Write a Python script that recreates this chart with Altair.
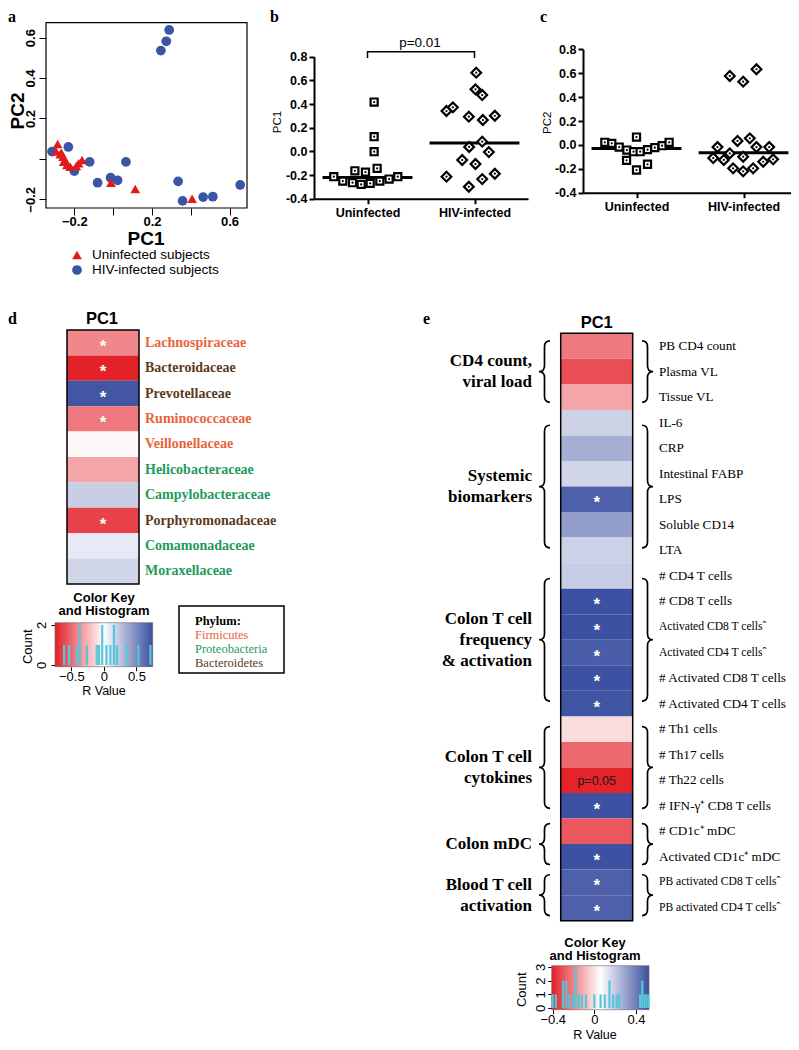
import json
import altair as alt
import pandas as pd

W, H = 783, 1034
M = 8
SANS = "Liberation Sans"
SERIF = "Liberation Serif"
RED = "#E31E26"
BLUE = "#3A4FA0"
CYAN = "#58C6DA"

# ------------------------------------------------------------------ data
# (a) PCA scatter
a_groups = ["Uninfected subjects", "HIV-infected subjects"]
a_colors = ["#E31A1C", "#3A55A6"]
a_shapes = ["triangle-up", "circle"]
a_unin_pc1 = [-0.286, -0.293, -0.272, -0.267, -0.258, -0.255, -0.246, -0.238, -0.221, -0.190, -0.178, -0.160, -0.011, 0.114, 0.407]
a_unin_pc2 = [0.074, 0.036, 0.023, 0.031, 0.011, -0.014, -0.007, -0.030, -0.039, -0.035, -0.022, -0.005, -0.118, -0.149, -0.197]
a_hiv_pc1 = [-0.315, -0.231, -0.200, -0.121, -0.080, -0.013, 0.023, 0.066, 0.246, 0.274, 0.289, 0.335, 0.358, 0.464, 0.514, 0.655]
a_hiv_pc2 = [0.036, 0.059, -0.060, -0.015, -0.118, -0.093, -0.106, -0.015, 0.536, 0.582, 0.638, -0.111, -0.208, -0.189, -0.187, -0.129]
a_ticks = [-0.2, 0.0, 0.2, 0.4, 0.6]
a_x_labeled = [-0.2, 0.2, 0.6]
a_y_labeled = [-0.2, 0.2, 0.4, 0.6]

# (b, c) dot plots
bc_cats = ["Uninfected", "HIV-infected"]
bc_yticks = [-0.4, -0.2, 0.0, 0.2, 0.4, 0.6, 0.8]
b_unin = [0.417, 0.124, -0.003, -0.164, -0.175, -0.143, -0.214, -0.251, -0.265, -0.279, -0.270, -0.251, -0.234, -0.214]
b_unin_jit = [0.062, 0.062, 0.062, -0.118, -0.019, 0.090, -0.315, -0.231, -0.140, -0.059, 0.025, 0.115, 0.202, 0.283]
b_hiv = [0.665, 0.524, 0.476, 0.341, 0.372, 0.293, 0.265, 0.301, 0.082, 0.037, -0.006, -0.073, -0.107, -0.214, -0.189, -0.234, -0.299]
b_hiv_jit = [0.016, 0.009, 0.072, -0.262, -0.202, -0.053, 0.078, 0.190, 0.072, -0.050, 0.134, -0.115, 0.009, -0.262, 0.190, 0.072, -0.053]
b_medians = [-0.22, 0.07]
b_bracket_x = [0, 0, 1, 1]
b_bracket_y = [0.79, 0.842, 0.842, 0.79]
b_pvalue = "p=0.01"

c_unin = [0.022, 0.013, -0.018, -0.043, -0.057, -0.057, -0.040, -0.023, -0.007, 0.022, 0.066, -0.129, -0.210, -0.162]
c_unin_jit = [-0.296, -0.231, -0.162, -0.090, -0.028, 0.034, 0.103, 0.171, 0.240, 0.305, 0.0, -0.093, 0.0, 0.103]
c_hiv = [0.577, 0.529, 0.633, -0.018, 0.033, 0.055, -0.018, -0.018, -0.071, -0.110, -0.126, -0.099, -0.196, -0.221, -0.196, -0.141, -0.121]
c_hiv_jit = [-0.128, -0.003, 0.121, -0.243, -0.056, 0.059, 0.121, 0.240, -0.128, -0.283, -0.184, -0.003, -0.097, -0.003, 0.090, 0.184, 0.277]
c_medians = [-0.03, -0.065]

# (d) family heatmap
d_families = ["Lachnospiraceae", "Bacteroidaceae", "Prevotellaceae", "Ruminococcaceae", "Veillonellaceae",
              "Helicobacteraceae", "Campylobacteraceae", "Porphyromonadaceae", "Comamonadaceae", "Moraxellaceae"]
d_phylum = ["Firmicutes", "Bacteroidetes", "Bacteroidetes", "Firmicutes", "Firmicutes",
            "Proteobacteria", "Proteobacteria", "Bacteroidetes", "Proteobacteria", "Proteobacteria"]
d_r = [-0.40, -0.74, 0.72, -0.45, -0.02, -0.30, 0.21, -0.63, 0.09, 0.18]
d_sig = ["*", "*", "*", "*", "", "", "", "*", "", ""]
phyla = ["Firmicutes", "Proteobacteria", "Bacteroidetes"]
phyla_colors = ["#E8643C", "#1E9A5C", "#5B3A1E"]
d_hist_r = [-0.61, -0.535, -0.42, -0.37, -0.26, -0.11, -0.075, -0.025, 0.04, 0.10, 0.155, 0.20, 0.35, 0.53, 0.715]
d_hist_n = [1, 1, 1, 2, 1, 1, 1, 2, 1, 1, 2, 1, 1, 1, 1]
d_key_domain = [-0.75, 0.75]

# (e) clinical heatmap
CARET = "\u02c6"
e_rows = ["PB CD4 count", "Plasma VL", "Tissue VL", "IL-6", "CRP", "Intestinal FABP", "LPS", "Soluble CD14", "LTA",
          "# CD4 T cells", "# CD8 T cells", "Activated CD8 T cells" + CARET, "Activated CD4 T cells" + CARET,
          "# Activated CD8 T cells", "# Activated CD4 T cells", "# Th1 cells", "# Th17 cells", "# Th22 cells",
          "# IFN-\u03b3\u207a CD8 T cells", "# CD1c\u207a mDC", "Activated CD1c\u207a mDC",
          "PB activated CD8 T cells" + CARET, "PB activated CD4 T cells" + CARET]
e_r = [-0.22, -0.31, -0.13, 0.177, 0.27, 0.17, 0.478, 0.317, 0.18, 0.19, 0.52, 0.52, 0.487, 0.52, 0.51,
       -0.014, -0.255, -0.40, 0.52, -0.29, 0.52, 0.48, 0.48]
e_sig = ["", "", "", "", "", "", "*", "", "", "", "*", "*", "*", "*", "*", "", "", "p=0.05", "*", "", "*", "*", "*"]
e_groups = ["CD4 count,\nviral load", "Systemic\nbiomarkers", "Colon T cell\nfrequency\n& activation",
            "Colon T cell\ncytokines", "Colon mDC", "Blood T cell\nactivation"]
e_group_start = [0, 3, 9, 15, 19, 21]
e_group_end = [3, 9, 15, 19, 21, 23]
e_hist_r = [-0.40, -0.37, -0.30, -0.27, -0.24, -0.20, -0.18, -0.15, -0.12, -0.08, 0.0, 0.06, 0.10, 0.145,
            0.18, 0.215, 0.24, 0.44, 0.46, 0.48, 0.50, 0.52]
e_hist_n = [1, 1, 2, 2, 1, 1, 3, 1, 1, 1, 1, 1, 1, 2, 1, 1, 1, 1, 2, 1, 1, 1]
e_key_domain = [-0.41, 0.525]


# ------------------------------------------------------------------ helpers
def P(v):
    return v - M


def sc(domain, rng):
    return alt.Scale(domain=domain, range=[P(r) for r in rng], nice=False, zero=False)


def axis(orient, page_pos, **kw):
    off = -(H - P(page_pos)) if orient == "bottom" else -P(page_pos)
    base = dict(orient=orient, offset=off, grid=False, title=None, labelFont=SANS, labelColor="black",
                domainColor="black", tickColor="black", labelFlush=False, labelOverlap=False)
    base.update(kw)
    return alt.Axis(**base)


def label(text, x, y, size=12, weight="normal", font=SANS, color="black", align="center",
          baseline="middle", angle=None, line_height=None):
    kw = dict(fontSize=size, fontWeight=weight, font=font, color=color, align=align, baseline=baseline)
    if angle is not None:
        kw["angle"] = angle
    if line_height is not None:
        kw["lineHeight"] = line_height
        kw["lineBreak"] = "\n"
    return alt.Chart(pd.DataFrame({"t": [text]})).mark_text(**kw).encode(
        x=alt.value(P(x)), y=alt.value(P(y)), text="t:N")


def box(x0, x1, y0, y1, color="black", width=1.5):
    return alt.Chart(pd.DataFrame({"k": [0]})).mark_rect(filled=False, color=color, strokeWidth=width).encode(
        x=alt.value(P(x0)), x2=alt.value(P(x1)), y=alt.value(P(y0)), y2=alt.value(P(y1)))


def heat_color_scale(domain, mid):
    return alt.Scale(domain=[domain[0], mid, domain[1]], range=[RED, "#FFFFFF", BLUE], interpolate="rgb")


def brace_path(h, left=True, w=11.0, curl=6.0):
    a = w / h
    k = 2 * curl / h
    s = 1 if left else -1
    f = lambda v: f"{v:.4f}"
    return (f"M{f(s*a)},-1 Q0,-1 0,{f(-1+k)} L0,{f(-k)} Q0,0 {f(-s*a)},0 "
            f"Q0,0 0,{f(k)} L0,{f(1-k)} Q0,1 {f(s*a)},1")


layers = []

# ------------------------------------------------------------------ panel a
xa = sc([-0.346, 0.69], [46, 247])
ya = sc([-0.243, 0.674], [208, 22.7])
df_a = pd.DataFrame({
    "pc1": a_hiv_pc1 + a_unin_pc1,
    "pc2": a_hiv_pc2 + a_unin_pc2,
    "grp": [a_groups[1]] * len(a_hiv_pc1) + [a_groups[0]] * len(a_unin_pc1),
})
a_col = alt.Scale(domain=a_groups, range=a_colors)
a_shp = alt.Scale(domain=a_groups, range=a_shapes)
ax_a = axis("bottom", 208, values=a_ticks, format=".1f", domain=False, tickSize=7,
            labelExpr=f"indexof({json.dumps(a_x_labeled)}, datum.value) >= 0 ? datum.label : ''",
            labelFontSize=13, labelFontWeight="bold", labelPadding=0)
ay_a = axis("left", 46, values=a_ticks, format=".1f", domain=False, tickSize=7,
            labelExpr=f"indexof({json.dumps(a_y_labeled)}, datum.value) >= 0 ? datum.label : ''",
            labelFontSize=13, labelFontWeight="bold", labelPadding=2, labelAngle=270,
            labelAlign="center", labelBaseline="bottom")
layers.append(alt.Chart(df_a).mark_point(filled=True, opacity=1, size=95).encode(
    x=alt.X("pc1:Q", scale=xa, axis=ax_a),
    y=alt.Y("pc2:Q", scale=ya, axis=ay_a),
    color=alt.Color("grp:N", scale=a_col, legend=None),
    shape=alt.Shape("grp:N", scale=a_shp, legend=None)))
layers.append(box(46, 247, 22.7, 208, width=1.2))
layers.append(label("PC1", 146, 239, size=19, weight="bold"))
layers.append(label("PC2", 18, 111, size=19, weight="bold", angle=270))
df_leg = pd.DataFrame({"grp": a_groups, "i": [0, 1]})
yl = sc([0, 1], [255, 270])
layers.append(alt.Chart(df_leg).mark_point(filled=True, opacity=1, size=95).encode(
    x=alt.value(P(77)), y=alt.Y("i:Q", scale=yl, axis=None),
    color=alt.Color("grp:N", scale=a_col, legend=None),
    shape=alt.Shape("grp:N", scale=a_shp, legend=None)))
layers.append(alt.Chart(df_leg).mark_text(align="left", baseline="middle", font=SANS, fontSize=13.5).encode(
    x=alt.value(P(92)), y=alt.Y("i:Q", scale=yl, axis=None), text="grp:N"))


# ------------------------------------------------------------------ panels b, c
def dot_panel(u_vals, u_jit, h_vals, h_jit, meds, xl, xr, yb, yt):
    xs = sc([-0.5, 1.5], [xl, xr])
    ys = sc([bc_yticks[0], bc_yticks[-1]], [yb, yt])
    du = pd.DataFrame({"x": [0 + j for j in u_jit], "y": u_vals})
    dh = pd.DataFrame({"x": [1 + j for j in h_jit], "y": h_vals})
    xaxis = axis("bottom", yb, values=[0, 1], labelExpr=f"{json.dumps(bc_cats)}[datum.value]",
                 tickSize=5, tickWidth=2, domainWidth=2, labelFontSize=12.5, labelFontWeight="bold",
                 labelPadding=3)
    yaxis = axis("left", xl, values=bc_yticks,
                 labelExpr="(datum.value < 0 ? '-' : '') + format(abs(datum.value), '.1f')",
                 tickSize=5, tickWidth=2, domainWidth=2, labelFontSize=12.5, labelFontWeight="bold",
                 labelPadding=2)
    style = dict(filled=True, fill="white", stroke="black", strokeWidth=2.2, opacity=1)
    med = pd.DataFrame({"x": [i - 0.42 for i in range(2)], "x2": [i + 0.42 for i in range(2)], "y": meds})
    out = [
        alt.Chart(med).mark_rule(color="black", strokeWidth=3).encode(
            x=alt.X("x:Q", scale=xs, axis=None), x2="x2:Q", y=alt.Y("y:Q", scale=ys, axis=None)),
        alt.Chart(du).mark_point(shape="square", size=50, **style).encode(
            x=alt.X("x:Q", scale=xs, axis=xaxis), y=alt.Y("y:Q", scale=ys, axis=yaxis)),
        alt.Chart(dh).mark_point(shape="diamond", size=95, **style).encode(
            x=alt.X("x:Q", scale=xs, axis=None), y=alt.Y("y:Q", scale=ys, axis=None)),
        alt.Chart(pd.concat([du, dh])).mark_point(filled=True, color="black", size=5, opacity=1).encode(
            x=alt.X("x:Q", scale=xs, axis=None), y=alt.Y("y:Q", scale=ys, axis=None)),
    ]
    return out, xs, ys


lb, xsb, ysb = dot_panel(b_unin, b_unin_jit, b_hiv, b_hiv_jit, b_medians, 314, 528, 198.7, 56.7)
layers += lb
br = pd.DataFrame({"x": b_bracket_x, "y": b_bracket_y, "o": list(range(len(b_bracket_x)))})
layers.append(alt.Chart(br).mark_line(color="black", strokeWidth=1.5).encode(
    x=alt.X("x:Q", scale=xsb, axis=None), y=alt.Y("y:Q", scale=ysb, axis=None), order="o:Q"))
layers.append(label(b_pvalue, 420, 43, size=13.5))
layers.append(label("PC1", 278, 122, size=11.5, angle=270))

lc, _, _ = dot_panel(c_unin, c_unin_jit, c_hiv, c_hiv_jit, c_medians, 583, 797, 192.7, 49.3)
layers += lc
layers.append(label("PC2", 547.5, 122.7, size=11.5, angle=270))


# ------------------------------------------------------------------ colour keys
def color_key(x0, x1, y0, y1, domain, count_top, count_y0, count_y1, hist_r, hist_n, ticks, title_x,
              title_y, count_x, count_ylab, rval_y, ylab_pad):
    g = alt.LinearGradient(gradient="linear", x1=0, x2=1, y1=0, y2=0, stops=[
        alt.GradientStop(color=RED, offset=0), alt.GradientStop(color="#FFFFFF", offset=0.5),
        alt.GradientStop(color=BLUE, offset=1)])
    out = [alt.Chart(pd.DataFrame({"k": [0]})).mark_rect(fill=g, stroke="#666666", strokeWidth=0.6).encode(
        x=alt.value(P(x0)), x2=alt.value(P(x1)), y=alt.value(P(y0)), y2=alt.value(P(y1)))]
    xk = sc(domain, [x0, x1])
    yk = sc([0, count_top], [count_y0, count_y1])
    dfh = pd.DataFrame({"v": hist_r, "n": hist_n, "z": [0] * len(hist_r)})
    out.append(alt.Chart(dfh).mark_rule(color=CYAN, strokeWidth=2.2).encode(
        x=alt.X("v:Q", scale=xk, axis=axis("bottom", y1, values=ticks, format=".1~f", domain=False,
                                          tickSize=4, labelFontSize=13, labelPadding=0)),
        y=alt.Y("z:Q", scale=yk, axis=axis("left", x0, values=list(range(count_top + 1)), format="d",
                                          domain=False, tickSize=4, labelFontSize=13,
                                          labelPadding=ylab_pad, labelAngle=270, labelAlign="center",
                                          labelBaseline="bottom")),
        y2="n:Q"))
    out.append(label("Color Key\nand Histogram", title_x, title_y, size=13, weight="bold", line_height=13))
    out.append(label("Count", count_x, count_ylab, size=13, angle=270))
    out.append(label("R Value", title_x, rval_y, size=12.5))
    return out


# ------------------------------------------------------------------ panel d
nd = len(d_families)
yd = sc([0, nd], [330, 584])
df_d = pd.DataFrame({"family": d_families, "phylum": d_phylum, "r": d_r, "sig": d_sig,
                     "idx": list(range(nd))})
df_d["idx1"] = df_d["idx"] + 1
df_d["mid"] = df_d["idx"] + 0.5
layers.append(alt.Chart(df_d).mark_rect().encode(
    x=alt.value(P(67)), x2=alt.value(P(139)),
    y=alt.Y("idx:Q", scale=yd, axis=None), y2="idx1:Q",
    color=alt.Color("r:Q", scale=heat_color_scale(d_key_domain, 0.0), legend=None)))
layers.append(box(67, 139, 330, 584, width=1.5))
layers.append(alt.Chart(df_d[df_d["sig"] == "*"]).mark_text(
    color="white", fontSize=17, fontWeight="bold", font=SANS, baseline="middle", dy=4).encode(
    x=alt.value(P(103)), y=alt.Y("mid:Q", scale=yd, axis=None), text="sig:N"))
ph_col = alt.Scale(domain=phyla, range=phyla_colors)
layers.append(alt.Chart(df_d).mark_text(align="left", baseline="middle", font=SERIF, fontWeight="bold",
                                         fontSize=14).encode(
    x=alt.value(P(145)), y=alt.Y("mid:Q", scale=yd, axis=None), text="family:N",
    color=alt.Color("phylum:N", scale=ph_col, legend=None)))
layers.append(label("PC1", 102, 319, size=16.5, weight="bold"))
layers += color_key(55, 152.7, 622.7, 666.7, d_key_domain, 2, 665, 625, d_hist_r, d_hist_n,
                    [-0.5, 0, 0.5], 104, 598, 28, 646.7, 691, 3)
# phylum legend
layers.append(box(179, 284, 606, 673, width=1.5))
layers.append(label("Phylum:", 195, 620.7, size=12.5, weight="bold", font=SERIF, align="left"))
df_ph = pd.DataFrame({"phylum": phyla, "i": list(range(len(phyla)))})
layers.append(alt.Chart(df_ph).mark_text(align="left", baseline="middle", font=SERIF, fontSize=12.5).encode(
    x=alt.value(P(195)), y=alt.Y("i:Q", scale=sc([0, 2], [634.7, 663]), axis=None), text="phylum:N",
    color=alt.Color("phylum:N", scale=ph_col, legend=None)))

# ------------------------------------------------------------------ panel e
ne = len(e_rows)
E_TOP, E_BOT = 333.3, 920.7
row_px = (E_BOT - E_TOP) / ne
ye = sc([0, ne], [E_TOP, E_BOT])
df_e = pd.DataFrame({"row": e_rows, "r": e_r, "sig": e_sig, "idx": list(range(ne))})
df_e["idx1"] = df_e["idx"] + 1
df_e["mid"] = df_e["idx"] + 0.5
layers.append(alt.Chart(df_e).mark_rect().encode(
    x=alt.value(P(560.7)), x2=alt.value(P(632.7)),
    y=alt.Y("idx:Q", scale=ye, axis=None), y2="idx1:Q",
    color=alt.Color("r:Q", scale=heat_color_scale(e_key_domain, sum(e_key_domain) / 2), legend=None)))
layers.append(box(560.7, 632.7, E_TOP, E_BOT, width=1.5))
layers.append(alt.Chart(df_e[df_e["sig"] == "*"]).mark_text(
    color="white", fontSize=17, fontWeight="bold", font=SANS, baseline="middle", dy=4).encode(
    x=alt.value(P(596.7)), y=alt.Y("mid:Q", scale=ye, axis=None), text="sig:N"))
layers.append(alt.Chart(df_e[df_e["sig"].str.startswith("p")]).mark_text(
    color="#1A1A1A", fontSize=12.5, font=SANS, baseline="middle", dy=1).encode(
    x=alt.value(P(596.7)), y=alt.Y("mid:Q", scale=ye, axis=None), text="sig:N"))
narrow = df_e["row"].str.endswith(CARET)
for sub, fs in ((df_e[~narrow], 13.2), (df_e[narrow], 11.6)):
    layers.append(alt.Chart(sub).mark_text(align="left", baseline="middle", font=SERIF, fontSize=fs).encode(
        x=alt.value(P(659)), y=alt.Y("mid:Q", scale=ye, axis=None), text="row:N"))
layers.append(label("PC1", 596.7, 323, size=16.5, weight="bold"))

LH = 21
df_g = pd.DataFrame({"grp": e_groups, "s": e_group_start, "e": e_group_end})
df_g["gid"] = [f"g{i}" for i in range(len(e_groups))]
df_g["c"] = (df_g["s"] + df_g["e"]) / 2
df_g["nl"] = df_g["grp"].str.count("\n")
df_g["first"] = df_g["c"] - df_g["nl"] * LH / 2 / row_px
df_g["h"] = (df_g["e"] - df_g["s"]) * row_px * 0.8
df_g["sz"] = df_g["h"] ** 2
layers.append(alt.Chart(df_g).mark_text(align="right", baseline="middle", font=SERIF, fontWeight="bold",
                                         fontSize=17, lineBreak="\n", lineHeight=LH).encode(
    x=alt.value(P(532)), y=alt.Y("first:Q", scale=ye, axis=None), text="grp:N"))
for side, xpos in (("left", 544.5), ("right", 647.5)):
    paths = [brace_path(h, left=(side == "left")) for h in df_g["h"]]
    layers.append(alt.Chart(df_g).mark_point(filled=False, color="black", strokeWidth=1.7, opacity=1).encode(
        x=alt.value(P(xpos)), y=alt.Y("c:Q", scale=ye, axis=None),
        shape=alt.Shape("gid:N", scale=alt.Scale(domain=list(df_g["gid"]), range=paths), legend=None),
        size=alt.Size("sz:Q", scale=None)))

# key e sits a little higher than in the source so that its axis title stays inside the page
layers += color_key(551.7, 649, 965.7, 1009.7, e_key_domain, 3, 1008, 967, e_hist_r, e_hist_n,
                    [-0.4, 0, 0.4], 595, 943, 521.7, 989.7, 1034.5, 0)

# ------------------------------------------------------------------ panel letters
for ch, x, y in (("a", 8, 22), ("b", 270, 22), ("c", 540, 22), ("d", 8, 324), ("e", 423, 324)):
    layers.append(label(ch, x, y, size=16, weight="bold", font=SERIF, align="left", baseline="alphabetic"))

chart = alt.layer(*layers).resolve_scale(
    x="independent", y="independent", color="independent", shape="independent", size="independent"
).properties(
    width=W, height=H, padding=0, autosize=alt.AutoSizeParams(type="none")
).configure(font=SANS).configure_view(strokeWidth=0).configure_axis(grid=False, labelFlush=False)

chart.save("out.html", embed_options={"renderer": "svg", "actions": False})
